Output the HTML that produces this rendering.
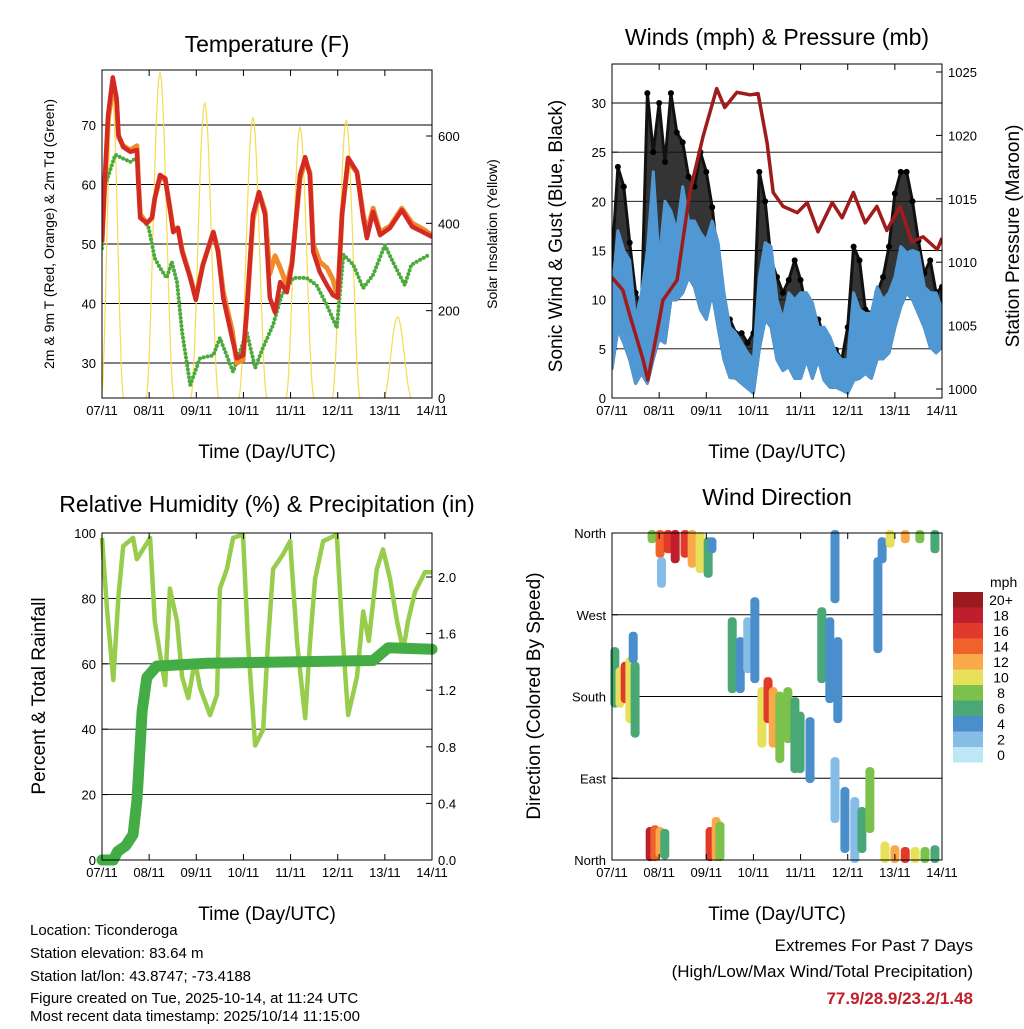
<!DOCTYPE html>
<html><head><meta charset="utf-8"><style>
body{margin:0;background:#fff}
svg{font-family:"Liberation Sans",sans-serif}
</style></head><body>
<svg id="s" width="1024" height="1024" xmlns="http://www.w3.org/2000/svg">
<rect width="1024" height="1024" fill="#fff"/>
<g id="g1"></g>
<g id="g2"></g>
<g id="g3"></g>
<g id="g4"></g>
<g font-size="15" fill="#000">
<text x="30" y="935">Location: Ticonderoga</text>
<text x="30" y="958">Station elevation: 83.64 m</text>
<text x="30" y="981">Station lat/lon: 43.8747; -73.4188</text>
<text x="30" y="1003">Figure created on Tue, 2025-10-14, at 11:24 UTC</text>
<text x="30" y="1021">Most recent data timestamp: 2025/10/14 11:15:00</text>
</g>
<g font-size="17" text-anchor="end">
<text x="973" y="951">Extremes For Past 7 Days</text>
<text x="973" y="977">(High/Low/Max Wind/Total Precipitation)</text>
<text x="973" y="1004" fill="#c0202a" font-weight="bold">77.9/28.9/23.2/1.48</text>
</g>
</svg>
<script>
const days=['07/11','08/11','09/11','10/11','11/11','12/11','13/11','14/11'];
// Temperature (F)
const redT=[0,.06,.13,.23,.31,.35,.45,.6,.74,.77,.81,.95,1.06,1.12,1.23,1.34,1.44,1.51,1.61,1.7,1.87,1.99,2.14,2.36,2.46,2.57,2.76,2.86,2.99,3.07,3.2,3.33,3.46,3.56,3.67,3.78,3.92,4.03,4.2,4.31,4.41,4.48,4.62,4.77,4.9,5.0,5.09,5.22,5.41,5.54,5.62,5.75,5.9,6.11,6.36,6.58,6.81,7.0];
const redV=[50.3,60.4,71.7,78,74.5,68.3,66.3,65.5,65.8,60.4,54.4,53.5,54.4,57.7,61.6,61,56,52,52.7,48.7,44.3,40.6,46.5,52,48.7,41,34.2,30.8,31.3,38.5,54.9,58.7,54.9,41,38.5,43.6,41.9,46.5,61.6,64.6,61.6,48.7,45.3,43.1,41.4,41,54.9,64.5,62.1,54.4,51,55.4,51.5,52.7,55.7,52.9,52,51.2];
const orangeV=[50.3,60.4,71,76,74,68,66.5,65.8,66.5,61,55,53.5,54.4,57.7,61,61,56,52.5,52.7,49,44.5,41,46.5,52,49,42,35.5,30,30.5,38.5,54,58.7,55.5,45,48,46,43,47,61,64,62,50,47,46,44,41,55,64,62,55,52,56,52,53,56,53.5,52.5,51.5];
const dewT=[0,.07,.14,.28,.6,.74,.81,.99,1.12,1.23,1.37,1.48,1.59,1.7,1.87,2.08,2.36,2.5,2.78,3.07,3.25,3.41,3.63,3.81,4.06,4.34,4.55,4.77,4.98,5.12,5.33,5.54,5.75,6.0,6.17,6.42,6.56,6.94];
const dewV=[49.3,60,61.6,65,63.8,64.5,54.9,52.7,47.6,46,44.3,47,43.6,35.2,26.3,30.8,31.3,34.2,28.5,35.2,29.2,32.5,36.4,41.4,44.3,44.3,43.1,39.7,35.9,48.2,46.5,42.6,44.8,49.8,47,43.1,46.5,48.2];
const solarCenter=[0.22,1.23,2.18,3.2,4.2,5.18,6.27];
const solarPeak=[690,745,675,642,620,636,185];
// Winds (mph) every 0.125 day
const windLo=[3,7,5.6,3.9,1.5,2.5,1.5,4,6,5.6,10,10,10.7,12.3,11.3,9,8,10.7,7.2,3.9,2.1,2,1.5,1,0.5,5,8,7.2,3.9,2.8,3.2,2,2,3.9,2,3.9,1.8,1.1,1.1,0.8,0.5,1.8,2,2.5,2,4,4,4.6,7.2,9.3,10.7,10,8.6,7.2,5.2,4.6,5.2];
const windHi=[10.7,17,15,14,8,10.7,15,23,14,20,19,17,21.5,18,18,16.8,16,18,15.8,10.7,7.2,6.6,5.6,4.6,3.9,12.3,15.8,15.4,10,8,10.7,10,10.7,10.7,9.7,7.2,7.2,6.2,4.6,3.9,3.9,10.7,9,8.6,8.6,11.3,10,10.7,12.3,15.4,14.8,15,14.8,11.3,10.7,10.7,9];
const gustHi=[14,23.5,21.5,15.8,10.7,9.3,31,25,30,24,31,27,26,22.5,21.5,25,23,19.4,14,8.2,8,6.6,6.6,5.6,6.6,23,20,14,12.3,10.7,12,14,12,9,7.2,8,6.2,4.9,4.9,3.9,7.2,15.4,14,9,8.6,10.7,12.3,15.4,20.8,23,23,20,16,12.7,14,10.7,11.3];
const presT=[0,.23,.38,.66,.76,.95,1.08,1.38,1.65,1.93,2.22,2.39,2.65,2.93,3.1,3.29,3.42,3.63,3.93,4.14,4.37,4.67,4.88,5.12,5.37,5.62,5.83,6.11,6.36,6.6,6.9,7.0];
const presV=[1008.8,1007.8,1005.8,1002.3,1000.7,1004.4,1007,1008.6,1015.5,1019.9,1023.7,1022.2,1023.4,1023.2,1023.3,1019.4,1015.5,1014.4,1013.9,1014.7,1012.4,1014.7,1013.5,1015.5,1013.1,1014.4,1012.5,1014.4,1011.6,1012,1011,1011.9];
// RH & precip
const rhT=[0,.11,.24,.35,.45,.66,.74,1.02,1.12,1.23,1.34,1.44,1.59,1.7,1.83,1.97,2.08,2.29,2.44,2.5,2.65,2.78,2.99,3.1,3.25,3.42,3.52,3.63,3.82,3.99,4.14,4.31,4.41,4.52,4.69,4.98,5.09,5.22,5.41,5.54,5.66,5.83,5.96,6.11,6.26,6.39,6.49,6.64,6.85,7.0];
const rhV=[98.5,76,55,81,96,98.5,92,98.5,73,63,53.5,83,73,56,49.5,61,52.6,44.3,50.5,83,89,98.5,99.5,66,35,40,66,89,93,97.5,66,43.4,66,86,97.5,99.5,71,44.3,56,76,67,89,95,86,73,64,73,82,88,88];
const prT=[0,.24,.33,.5,.66,.74,.77,.85,.95,1.16,2.22,5.75,6.07,7.0];
const prV=[0,0,.06,.1,.18,.42,.58,1.05,1.29,1.37,1.39,1.41,1.5,1.49];
// Wind direction records
const dirT=[.06,.17,.28,.38,.49,.45,.81,.91,1.02,1.12,.85,1.02,1.19,1.34,1.55,1.70,1.87,2.04,2.12,1.05,2.08,2.21,2.29,2.55,2.72,2.88,3.03,3.18,3.31,3.42,3.56,3.73,3.88,3.99,4.20,4.45,4.62,4.79,4.73,4.73,4.94,5.15,5.30,5.47,5.64,5.73,5.79,6.00,6.22,6.43,6.64,6.85,5.90,6.22,6.53,6.85];
const dirLo=[171,171,176,154,138,220,2,2,6,4,352,336,341,330,336,325,319,314,341,303,2,2,2,187,187,209,198,127,154,127,110,132,99,99,88,198,176,154,286,44,11,0,11,33,231,330,0,0,0,0,0,0,347,352,352,341];
const dirHi=[231,209,215,220,215,248,33,35,33,31,360,360,360,360,360,360,358,352,352,330,33,44,39,264,242,264,286,187,198,187,182,187,176,160,154,275,264,242,360,110,77,66,55,99,330,352,17,13,11,11,11,13,360,360,360,360];
const dirSpd=[5,10,15,9,6,4,18,14,12,6,8,14,16,18,16,12,10,6,4,2,16,12,8,5,4,2,3,10,16,12,8,7,6,5,4,6,4,3,3,2,3,2,6,7,4,3,10,12,16,10,8,6,10,12,8,6];
const binLabels=['0','2','4','6','8','10','12','14','16','18','20+'];
const binColors=['#bde6f6','#86bde6','#4a8fcc','#4aa877','#7bc24c','#e6e05a','#f9a94a','#f0622b','#e03a2a','#bf1e2d','#9a1a1e'];

const NS='http://www.w3.org/2000/svg';
function mk(p,tag,at,txt){const e=document.createElementNS(NS,tag);for(const k in at)e.setAttribute(k,at[k]);if(txt!==undefined)e.textContent=txt;p.appendChild(e);return e;}
function lin(d0,d1,r0,r1){return v=>r0+(v-d0)*(r1-r0)/(d1-d0);}
function path(xs,ys,fx,fy){return xs.map((t,i)=>(i?'L':'M')+fx(t).toFixed(1)+','+fy(ys[i]).toFixed(1)).join('');}
function spd2col(s){let i=Math.min(10,Math.max(0,Math.round(s/2)));return binColors[i];}

function frame(g,x0,y0,x1,y1,title,tY){
  const ax=mk(g,'rect',{x:x0,y:y0,width:x1-x0,height:y1-y0,fill:'none',stroke:'#000','stroke-width':1});
  
  
  const tt=mk(g,'text',{x:(x0+x1)/2,y:tY,'text-anchor':'middle','font-size':23},title);
  
  
  const fx=lin(0,7,x0,x1);
  days.forEach((d,i)=>{
    const x=fx(i);
    mk(g,'line',{x1:x,x2:x,y1:y1,y2:y1-6,stroke:'#000'});
    mk(g,'line',{x1:x,x2:x,y1:y0,y2:y0+6,stroke:'#000'});
    const tl=mk(g,'text',{x:x,y:y1+17,'text-anchor':'middle','font-size':13},d);
    
    
  });
  const xa=mk(g,'text',{x:(x0+x1)/2,y:y1+60,'text-anchor':'middle','font-size':19},'Time (Day/UTC)');
  
  
  return fx;
}
function yticks(g,x0,x1,fy,vals,labels,side,grid,fs){
  vals.forEach((v,i)=>{
    const y=fy(v);
    if(grid) mk(g,'line',{x1:x0,x2:x1,y1:y,y2:y,stroke:'#000','stroke-width':0.9});
    if(side==='l'){mk(g,'line',{x1:x0,x2:x0+6,y1:y,y2:y,stroke:'#000'});
      const t=mk(g,'text',{x:x0-6,y:y+5,'text-anchor':'end','font-size':fs||13},labels[i]);
      
      }
    else{mk(g,'line',{x1:x1,x2:x1-6,y1:y,y2:y,stroke:'#000'});
      const t=mk(g,'text',{x:x1+6,y:y+5,'text-anchor':'start','font-size':fs||13},labels[i]);
      
      }
  });
}
function vlabel(g,x,y,txt,fs,name){const t=mk(g,'text',{x:x,y:y,'text-anchor':'middle','font-size':fs,transform:`rotate(-90 ${x} ${y})`},txt);
  
  }

// Panel 1
(function(){
  const g=document.getElementById('g1');const X0=102,X1=432,Y0=70,Y1=398;
  const fy=lin(30,70,363,125), fs=lin(0,600,398,136);
  const clip=mk(g,'clipPath',{id:'c1'});mk(clip,'rect',{x:X0,y:Y0,width:X1-X0,height:Y1-Y0});
  const fx=lin(0,7,X0,X1);
  yticks(g,X0,X1,fy,[30,40,50,60,70],['30','40','50','60','70'],'l',true);
  yticks(g,X0,X1,fs,[0,200,400,600],['0','200','400','600'],'r',false);
  const pg=mk(g,'g',{'clip-path':'url(#c1)'});
  solarCenter.forEach((c,i)=>{
    const hw=i===0?0.24:0.3;
    const pts=[];for(let k=0;k<=40;k++){const t=c-hw+k*2*hw/40;const u=Math.cos((t-c)/hw*Math.PI/2);pts.push([t,solarPeak[i]*u*u]);}
    const p=mk(pg,'path',{d:pts.map((q,j)=>(j?'L':'M')+fx(q[0]).toFixed(1)+','+fs(q[1]).toFixed(1)).join(''),fill:'none',stroke:'#f5dc50','stroke-width':1.2});
    
    
  });
  const d=mk(pg,'path',{d:path(dewT,dewV,fx,fy),fill:'none',stroke:'#4caa3c','stroke-width':4,'stroke-dasharray':'0 4','stroke-linecap':'round','stroke-linejoin':'round'});
  
  
  const o=mk(pg,'path',{d:path(redT,orangeV,fx,fy),fill:'none',stroke:'#f08a2a','stroke-width':5,'stroke-linejoin':'round'});
  
  
  const r=mk(pg,'path',{d:path(redT,redV,fx,fy),fill:'none',stroke:'#d42a24','stroke-width':4.5,'stroke-linejoin':'round'});
  
  
  frame(g,X0,Y0,X1,Y1,'Temperature (F)',52);
  vlabel(g,54,234,'2m & 9m T (Red, Orange) & 2m Td (Green)',14,'y-axis-title');
  vlabel(g,497,234,'Solar Insolation (Yellow)',14,'y2-axis-title');
})();

// Panel 2
(function(){
  const g=document.getElementById('g2');const X0=612,X1=942,Y0=64,Y1=398;
  const fy=lin(0,30,398,103), fp=lin(1000,1025,389,72);
  const clip=mk(g,'clipPath',{id:'c2'});mk(clip,'rect',{x:X0,y:Y0,width:X1-X0,height:Y1-Y0});
  const fx=lin(0,7,X0,X1);
  yticks(g,X0,X1,fy,[0,5,10,15,20,25,30],['0','5','10','15','20','25','30'],'l',true);
  yticks(g,X0,X1,fp,[1000,1005,1010,1015,1020,1025],['1000','1005','1010','1015','1020','1025'],'r',false);
  const pg=mk(g,'g',{'clip-path':'url(#c2)'});
  const wt=windLo.map((_,i)=>i*0.125);
  const gp=path(wt,gustHi,fx,fy)+path(wt.slice().reverse(),windLo.slice().reverse(),fx,fy).replace('M','L')+'Z';
  const ga=mk(pg,'path',{d:gp,fill:'#111','fill-opacity':0.85,stroke:'#111','stroke-width':3,'stroke-linejoin':'round'});
  
  
  gustHi.forEach((v,i)=>{const c=mk(pg,'circle',{cx:fx(wt[i]),cy:fy(v),r:3,fill:'#000'});
    
    });
  const bp=path(wt,windHi,fx,fy)+path(wt.slice().reverse(),windLo.slice().reverse(),fx,fy).replace('M','L')+'Z';
  const ba=mk(pg,'path',{d:bp,fill:'#4f98d4',stroke:'#4f98d4','stroke-width':3,'stroke-linejoin':'round'});
  
  
  const pl=mk(pg,'path',{d:path(presT,presV,fx,fp),fill:'none',stroke:'#a01c1c','stroke-width':3.5,'stroke-linejoin':'round'});
  
  
  frame(g,X0,Y0,X1,Y1,'Winds (mph) & Pressure (mb)',45);
  vlabel(g,562,236,'Sonic Wind & Gust (Blue, Black)',19,'y-axis-title');
  vlabel(g,1019,236,'Station Pressure (Maroon)',19,'y2-axis-title');
})();

// Panel 3
(function(){
  const g=document.getElementById('g3');const X0=102,X1=432,Y0=533,Y1=860;
  const fy=lin(0,100,860,533), fr=lin(0,2,860,577);
  const fx=lin(0,7,X0,X1);
  yticks(g,X0,X1,fy,[20,40,60,80],['20','40','60','80'],'l',true);
  yticks(g,X0,X1,fy,[0,100],['0','100'],'l',false);
  yticks(g,X0,X1,fr,[0,.4,.8,1.2,1.6,2.0],['0.0','0.4','0.8','1.2','1.6','2.0'],'r',false);
  const rl=mk(g,'path',{d:path(rhT,rhV,fx,fy),fill:'none',stroke:'#98cc4c','stroke-width':4.5,'stroke-linejoin':'round'});
  
  
  const pl=mk(g,'path',{d:path(prT,prV,fx,fr),fill:'none',stroke:'#44ac44','stroke-width':11,'stroke-linejoin':'round','stroke-linecap':'round'});
  
  
  frame(g,X0,Y0,X1,Y1,'Relative Humidity (%) & Precipitation (in)',512);
  vlabel(g,45,696,'Percent & Total Rainfall',19,'y-axis-title');
})();

// Panel 4
(function(){
  const g=document.getElementById('g4');const X0=612,X1=942,Y0=533,Y1=860;
  const fy=lin(0,360,860,533);
  const fx=lin(0,7,X0,X1);
  yticks(g,X0,X1,fy,[90,180,270],['East','South','West'],'l',true);
  yticks(g,X0,X1,fy,[0,360],['North','North'],'l',false);
  const pg=mk(g,'g',{});
  dirT.forEach((t,i)=>{
    const yt=fy(dirHi[i]),yb=fy(dirLo[i]);
    const r=mk(pg,'rect',{x:fx(t)-4.5,y:yt-3,width:9,height:yb-yt+6,rx:4,fill:spd2col(dirSpd[i])});
    
    
  });
  frame(g,X0,Y0,X1,Y1,'Wind Direction',505);
  vlabel(g,540,696,'Direction (Colored By Speed)',19,'y-axis-title');
  const lg=mk(g,'g',{});
  
  
  mk(lg,'text',{x:990,y:587,'font-size':14},'mph');
  binColors.forEach((c,i)=>{
    const y=592+(10-i)*15.5;
    const b=mk(lg,'rect',{x:953,y:y,width:30,height:15.5,fill:c});
    
    
    const t=mk(lg,'text',{x:1001,y:y+13,'text-anchor':'middle','font-size':14},binLabels[i]);
    
    
  });
})();
</script>
</body></html>
